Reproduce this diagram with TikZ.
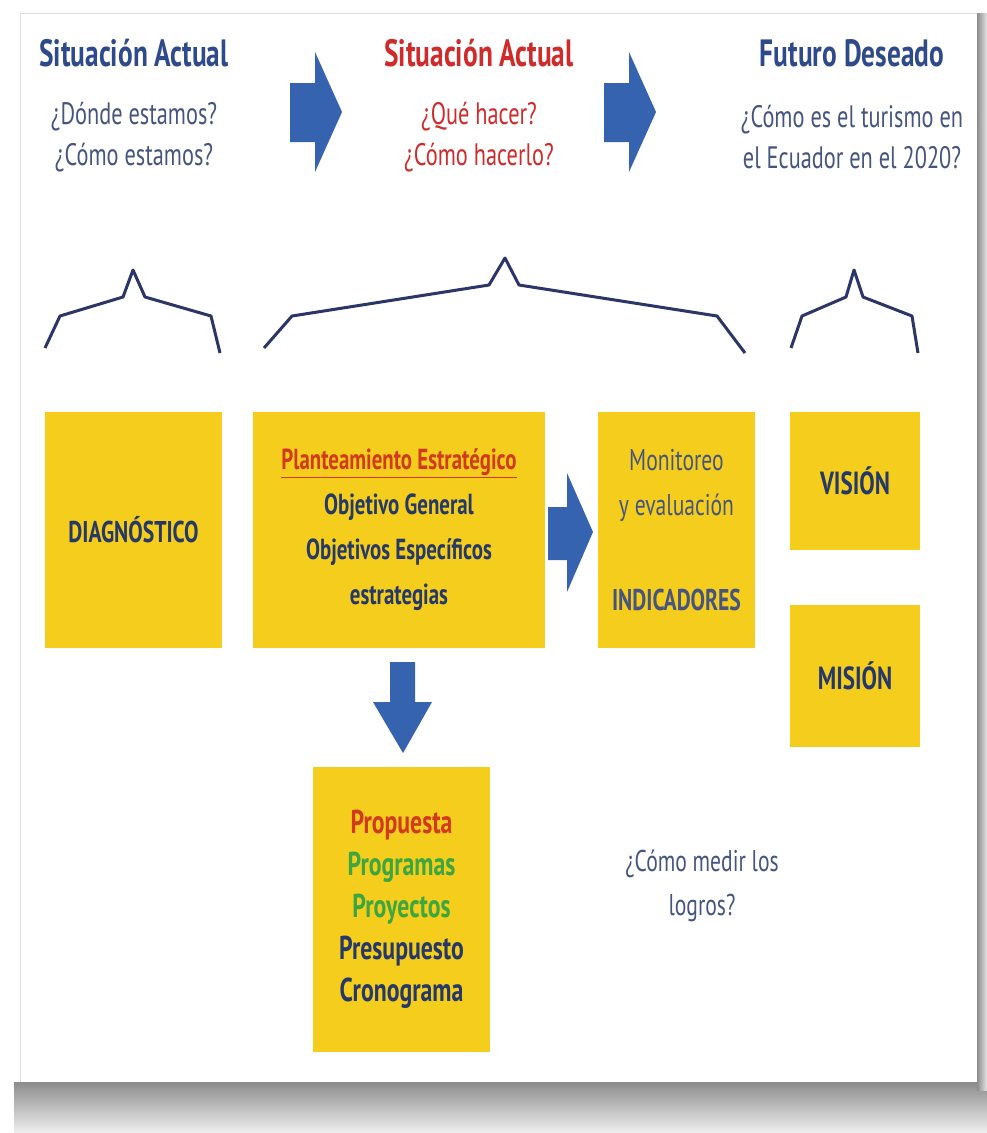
\documentclass[tikz,border=0pt]{standalone}
\usepackage{fontspec}
\setmainfont{PT Sans}
\newfontfamily\condfont[FakeStretch=0.72]{PT Sans}
\usetikzlibrary{positioning}

\definecolor{boxyellow}{HTML}{F5CD1C}
\definecolor{titleblue}{HTML}{2E4A8B}
\definecolor{textblue}{HTML}{46557F}
\definecolor{navy}{HTML}{25386A}
\definecolor{titlered}{HTML}{D02B2B}
\definecolor{planred}{HTML}{D23A1E}
\definecolor{progreen}{HTML}{3DA640}
\definecolor{arrowblue}{HTML}{3563B0}
\definecolor{bracenavy}{HTML}{2B3566}

\begin{document}
\begin{tikzpicture}[x=1pt,y=-1pt,
    box/.style={fill=boxyellow,inner sep=0pt,align=center,text=navy},
    title/.style={font=\fontsize{38}{40}\selectfont\condfont\bfseries},
    ask/.style={font=\fontsize{31}{41}\selectfont\condfont,text=textblue,align=center},
    boxtext/.style={font=\fontsize{30}{45}\selectfont\condfont\bfseries},
    brace/.style={draw=bracenavy,line width=3pt,line join=round},
    blockarrow/.style={fill=arrowblue}]
  % page and card with its shadow
  \useasboundingbox (0,0) rectangle (987,1133);
  \fill[white] (0,0) rectangle (987,1133);
  \shade[top color=black!45,bottom color=black!6] (14,1082) rectangle (987,1133);
  \shade[left color=black!45,right color=black!10] (977,13) rectangle (987,1090);
  \fill[white] (20,13) rectangle (977,1082);
  \draw[black!12] (20,1082) -- (20,13) -- (977,13);

  % headings
  \node[title,text=titleblue] (head1) at (134,53) {Situación Actual};
  \node[ask] (ask1) at (134,137) {¿Dónde estamos?\\¿Cómo estamos?};
  \node[title,text=titlered] (head2) at (479,53) {Situación Actual};
  \node[ask,text=titlered] (ask2) at (479,137) {¿Qué hacer?\\¿Cómo hacerlo?};
  \node[title,text=titleblue] (head3) at (852,53) {Futuro Deseado};
  \node[ask] (ask3) at (852,137) {¿Cómo es el turismo en\\el Ecuador en el 2020?};

  % arrows between headings
  \fill[blockarrow] (290,83) -- (315,83) -- (315,52) -- (342,112) -- (315,172) -- (315,142) -- (290,142) -- cycle;
  \fill[blockarrow] (604,83) -- (629,83) -- (629,52) -- (656,112) -- (629,172) -- (629,142) -- (604,142) -- cycle;

  % braces
  \draw[brace] (45,348) -- (60,316) -- (123,297) -- (133,270) -- (145,297) -- (211,316) -- (220,353);
  \draw[brace] (264,348) -- (292,316) -- (489,285) -- (505,258) -- (519,285) -- (717,316) -- (745,353);
  \draw[brace] (791,348) -- (802,316) -- (846,297) -- (854,270) -- (863,297) -- (912,316) -- (918,353);

  % boxes
  \node[box,boxtext,minimum width=177pt,minimum height=236pt] (diag) at (133.5,530) {DIAGNÓSTICO};
  \node[box,boxtext,font=\fontsize{29}{45}\selectfont\condfont\bfseries,
    minimum width=292pt,minimum height=236pt] (plan) at (399,530)
    {\textcolor{planred}{\underline{Planteamiento Estratégico}}\\Objetivo General\\Objetivos Específicos\\estrategias};
  \node[box,minimum width=157pt,minimum height=236pt,text=textblue,
    font=\fontsize{30}{45}\selectfont\condfont] (monit) at (676.5,530)
    {Monitoreo\\y evaluación\\[50pt]\textbf{INDICADORES}};
  \node[box,boxtext,font=\fontsize{32}{45}\selectfont\condfont\bfseries,
    minimum width=130pt,minimum height=138pt] (vision) at (855,481) {VISIÓN};
  \node[box,boxtext,font=\fontsize{32}{45}\selectfont\condfont\bfseries,
    minimum width=130pt,minimum height=142pt] (mision) at (855,676) {MISIÓN};
  \node[box,minimum width=177pt,minimum height=285pt,
    font=\fontsize{33}{42}\selectfont\condfont\bfseries] (prop) at (401.5,909.5)
    {\textcolor{planred}{Propuesta}\\\textcolor{progreen}{Programas}\\\textcolor{progreen}{Proyectos}\\Presupuesto\\Cronograma};

  % arrows between boxes
  \fill[blockarrow] (548,507) -- (567,507) -- (567,473) -- (593,532) -- (567,592) -- (567,560) -- (548,560) -- cycle;
  \fill[blockarrow] (390,662) -- (415,662) -- (415,702) -- (432,702) -- (403,753) -- (373,702) -- (390,702) -- cycle;

  \node[ask,font=\fontsize{30}{44}\selectfont\condfont] (logros) at (702,886) {¿Cómo medir los\\logros?};
\end{tikzpicture}
\end{document}
